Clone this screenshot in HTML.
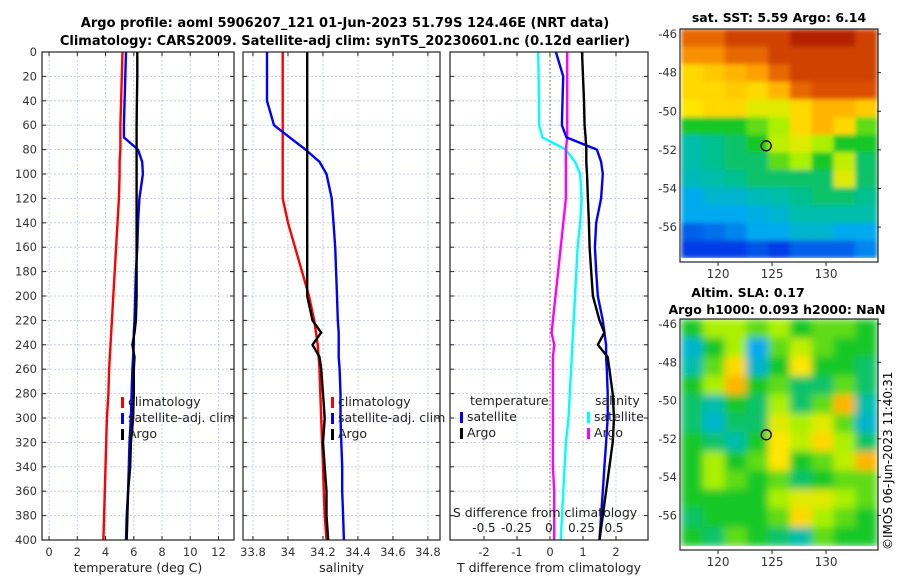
<!DOCTYPE html>
<html><head><meta charset="utf-8"><style>
body{margin:0;background:#fff;}
svg{display:block;font-family:"DejaVu Sans","Liberation Sans",sans-serif;}
</style></head><body>
<svg id="chart" width="900" height="580" viewBox="0 0 900 580" xmlns="http://www.w3.org/2000/svg">
<defs>
<filter id="blurS" x="0" y="0" width="1" height="1"><feGaussianBlur stdDeviation="2.5" edgeMode="duplicate"/></filter>
<filter id="blurL" x="0" y="0" width="1" height="1"><feGaussianBlur stdDeviation="4" edgeMode="duplicate"/></filter>
</defs>
<rect width="900" height="580" fill="#fff"/>
<text x="345" y="27" text-anchor="middle" font-size="13" font-weight="bold">Argo profile: aoml 5906207_121 01-Jun-2023 51.79S 124.46E (NRT data)</text>
<text x="345" y="45" text-anchor="middle" font-size="13" font-weight="bold">Climatology: CARS2009. Satellite-adj clim: synTS_20230601.nc (0.12d earlier)</text>
<text x="779" y="22" text-anchor="middle" font-size="12.5" font-weight="bold">sat. SST: 5.59 Argo: 6.14</text>
<text x="748" y="297" text-anchor="middle" font-size="12.5" font-weight="bold">Altim. SLA: 0.17</text>
<text x="777" y="314" text-anchor="middle" font-size="12.5" font-weight="bold">Argo h1000: 0.093 h2000: NaN</text>
<text transform="translate(892,550) rotate(-90)" font-size="12">©IMOS 06-Jun-2023 11:40:31</text>
<g id="g"></g>
</svg>
<script>
// ---- data ----
const depths=[0,20,40,60,70,80,90,100,120,140,160,180,200,220,230,240,250,260,280,300,320,340,360,380,400];
const tempClim=[5.2,5.15,5.1,5.05,5.05,5.05,5.0,5.0,4.95,4.85,4.75,4.65,4.55,4.45,4.4,4.35,4.3,4.25,4.2,4.1,4.05,4.0,3.95,3.9,3.85];
const tempSat=[5.45,5.4,5.35,5.3,5.3,6.3,6.6,6.65,6.4,6.3,6.25,6.15,6.1,6.05,6.0,6.0,5.95,5.9,5.85,5.8,5.7,5.65,5.6,5.5,5.45];
const tempArgo=[6.25,6.25,6.22,6.2,6.2,6.2,6.2,6.2,6.2,6.2,6.2,6.2,6.2,6.15,6.05,5.9,6.05,6.0,6.0,5.95,5.8,5.75,5.6,5.55,5.5];
const salClim=[33.97,33.97,33.97,33.97,33.97,33.97,33.97,33.97,33.97,34.0,34.04,34.08,34.12,34.15,34.16,34.17,34.175,34.18,34.185,34.19,34.195,34.2,34.205,34.21,34.22];
const salSat=[33.88,33.88,33.88,33.92,34.01,34.1,34.18,34.22,34.25,34.26,34.27,34.275,34.28,34.285,34.29,34.29,34.29,34.295,34.3,34.3,34.305,34.31,34.31,34.315,34.32];
const salArgo=[34.11,34.11,34.11,34.11,34.11,34.11,34.11,34.11,34.11,34.11,34.11,34.11,34.11,34.14,34.19,34.14,34.18,34.19,34.2,34.21,34.2,34.21,34.22,34.22,34.23];
const tDiffSat=[0.18,0.4,0.38,0.36,0.5,1.42,1.55,1.6,1.55,1.4,1.36,1.4,1.45,1.6,1.65,1.7,1.7,1.72,1.75,1.75,1.7,1.65,1.6,1.55,1.5];
const tDiffArgo=[0.97,1.0,1.03,1.05,1.08,1.1,1.1,1.12,1.15,1.18,1.2,1.25,1.3,1.5,1.65,1.45,1.75,1.8,1.9,1.94,1.9,1.8,1.7,1.6,1.5];
const sDiffSat=[-0.083,-0.08,-0.078,-0.076,-0.05,0.13,0.2,0.24,0.25,0.24,0.22,0.21,0.2,0.19,0.185,0.18,0.175,0.17,0.16,0.15,0.13,0.12,0.11,0.1,0.09];
const sDiffArgo=[0.14,0.14,0.14,0.14,0.14,0.13,0.13,0.13,0.13,0.11,0.09,0.07,0.05,0.03,0.02,0.04,0.03,0.03,0.03,0.03,0.03,0.03,0.04,0.04,0.04];
const depthTicks=[0,20,40,60,80,100,120,140,160,180,200,220,240,260,280,300,320,340,360,380,400];
const tempTicks=[0,2,4,6,8,10,12];
const salTicks=[33.8,34,34.2,34.4,34.6,34.8];
const salTickLabels=["33.8","34","34.2","34.4","34.6","34.8"];
const tdTicks=[-2,-1,0,1,2];
const sdTicks=[-0.5,-0.25,0,0.25,0.5];
const sdTickLabels=["-0.5","-0.25","0","0.25","0.5"];
const latTicks=[-46,-48,-50,-52,-54,-56];
const lonTicks=[120,125,130];
const sstGrid=[
[.85,.85,.9,.9,.9,.95,.95,.95,.9],
[.8,.8,.85,.85,.9,.9,.9,.9,.9],
[.7,.72,.75,.78,.85,.9,.9,.9,.9],
[.7,.7,.72,.7,.75,.85,.88,.88,.88],
[.68,.7,.7,.65,.65,.7,.75,.75,.72],
[.5,.5,.5,.55,.6,.7,.75,.7,.55],
[.4,.42,.45,.5,.62,.65,.6,.5,.5],
[.4,.42,.45,.45,.55,.6,.5,.62,.45],
[.38,.4,.42,.45,.45,.45,.45,.65,.45],
[.3,.35,.35,.38,.4,.42,.45,.45,.42],
[.3,.3,.3,.32,.35,.4,.4,.4,.4],
[.2,.22,.25,.3,.3,.35,.35,.3,.3],
[.15,.15,.15,.18,.15,.2,.2,.2,.25]];
const slaGrid=[
[.5,.6,.6,.55,.6,.5,.55,.55,.5],
[.35,.5,.6,.3,.55,.62,.55,.5,.5],
[.4,.55,.7,.35,.5,.68,.5,.5,.45],
[.5,.6,.75,.5,.55,.45,.45,.55,.45],
[.45,.4,.5,.45,.6,.45,.55,.75,.4],
[.45,.35,.45,.45,.65,.6,.65,.55,.35],
[.5,.45,.4,.5,.68,.62,.7,.6,.45],
[.5,.6,.5,.55,.68,.5,.55,.62,.75],
[.5,.6,.55,.5,.55,.45,.5,.55,.55],
[.5,.5,.5,.5,.6,.65,.65,.6,.55],
[.45,.5,.5,.5,.55,.7,.6,.55,.5],
[.5,.45,.55,.5,.45,.4,.55,.5,.5]];
const argoLon=124.46, argoLat=-51.79;

const NS='http://www.w3.org/2000/svg';
const G=document.getElementById('g');
function el(t,a,p){const e=document.createElementNS(NS,t);for(const k in a)e.setAttribute(k,a[k]);(p||G).appendChild(e);return e;}
const Y0=52,Y1=540;
const yD=d=>Y0+(d/400)*(Y1-Y0);

function panel(x0,x1,xmin,xmax,ticks,labels,name,xlabel){
  const sx=v=>x0+(v-xmin)/(xmax-xmin)*(x1-x0);
  const g=el('g',{});
  
  
  ticks.forEach((t,i)=>{
    const l=el('line',{x1:sx(t),x2:sx(t),y1:Y0,y2:Y1,stroke:'#b8c4e8','stroke-width':0.8,'stroke-dasharray':'2,2'},g);
    
    
    const tx=el('text',{x:sx(t),y:556,'text-anchor':'middle','font-size':11.5,fill:'#333'},g);
    
    
    tx.textContent=labels?labels[i]:String(t);
    el('line',{x1:sx(t),x2:sx(t),y1:Y1,y2:Y1-4,stroke:'#222'},g);
    el('line',{x1:sx(t),x2:sx(t),y1:Y0,y2:Y0+4,stroke:'#222'},g);
  });
  depthTicks.forEach(d=>{
    const l=el('line',{x1:x0,x2:x1,y1:yD(d),y2:yD(d),stroke:'#b8c4e8','stroke-width':0.8,'stroke-dasharray':'2,2'},g);
    
    
    el('line',{x1:x0,x2:x0+4,y1:yD(d),y2:yD(d),stroke:'#222'},g);
    el('line',{x1:x1,x2:x1-4,y1:yD(d),y2:yD(d),stroke:'#222'},g);
  });
  const xl=el('text',{x:(x0+x1)/2,y:572,'text-anchor':'middle','font-size':12.5,fill:'#222'},g);
  
  
  xl.textContent=xlabel;
  return {sx,g};
}
function frame(x0,x1,name){const r=el('rect',{x:x0,y:Y0,width:x1-x0,height:Y1-Y0,fill:'none',stroke:'#222','stroke-width':1.2});
}
function line(vals,sx,color,name,w){
  const pts=vals.map((v,i)=>sx(v).toFixed(1)+','+yD(depths[i]).toFixed(1)).join(' ');
  const p=el('polyline',{points:pts,fill:'none',stroke:color,'stroke-width':w||2.4,'stroke-linejoin':'round'});
  
  
}
function legend(x,y,items,name){
  items.forEach((it,i)=>{
    const yy=y+i*16;
    if(it[1]){const m=el('rect',{x:x,y:yy-9,width:3,height:11,fill:it[1]});
      }
    const t=el('text',{x:x+(it[1]?7:0),y:yy,'font-size':12.5,fill:'#222'});
    
    
    t.textContent=it[0];
  });
}

depthTicks.forEach(d=>{const t=el('text',{x:37,y:yD(d)+4,'text-anchor':'end','font-size':11.5,fill:'#333'});
t.textContent=d;});

// Panel 1
const p1=panel(42,234,-0.5,13.1,tempTicks,null,'temperature','temperature (deg C)');
line(tempClim,p1.sx,'#ff0000','temp-climatology-line');
line(tempSat,p1.sx,'#0000ff','temp-satellite-line');
line(tempArgo,p1.sx,'#000000','temp-argo-line');
legend(121,406,[['climatology','#ff0000'],['satellite-adj. clim','#0000ff'],['Argo','#000']],'temperature');
frame(42,234,'temperature');

// Panel 2
const p2=panel(243,440,33.743,34.869,salTicks,salTickLabels,'salinity','salinity');
line(salClim,p2.sx,'#ff0000','sal-climatology-line');
line(salSat,p2.sx,'#0000ff','sal-satellite-line');
line(salArgo,p2.sx,'#000000','sal-argo-line');
legend(331,406,[['climatology','#ff0000'],['satellite-adj. clim','#0000ff'],['Argo','#000']],'salinity');
frame(243,440,'salinity');

// Panel 3
const p3=panel(450,648,-3.03,2.97,tdTicks,null,'difference','T difference from climatology');
const sxS=v=>549+v*130;
el('line',{x1:550,x2:550,y1:Y0,y2:Y1,stroke:'#556b2f','stroke-width':1,'stroke-dasharray':'1.5,2.5'});
line(sDiffSat,sxS,'#00ffff','s-diff-satellite-line');
line(sDiffArgo,sxS,'#ff00ff','s-diff-argo-line');
line(tDiffSat,p3.sx,'#0000ff','t-diff-satellite-line');
line(tDiffArgo,p3.sx,'#000000','t-diff-argo-line');
legend(470,405,[['temperature',null]],'t-diff');
legend(460,421,[['satellite','#0000ff'],['Argo','#000']],'t-diff');
legend(595,405,[['salinity',null]],'s-diff');
legend(587,421,[['satellite','#00ffff'],['Argo','#ff00ff']],'s-diff');
const st=el('text',{x:545,y:517,'text-anchor':'middle','font-size':12.5,fill:'#222'});

st.textContent='S difference from climatology';
sdTicks.forEach((t,i)=>{const tx=el('text',{x:sxS(t),y:532,'text-anchor':'middle','font-size':12,fill:'#222'});
tx.textContent=sdTickLabels[i];});
frame(450,648,'difference');

// Maps
function jet(v){
  const stops=[[0,[0,0,140]],[0.15,[0,60,230]],[0.3,[0,170,240]],[0.4,[0,190,170]],[0.5,[20,200,40]],[0.6,[170,240,0]],[0.68,[255,230,0]],[0.78,[255,160,0]],[0.88,[220,80,0]],[1,[150,0,0]]];
  for(let i=1;i<stops.length;i++){if(v<=stops[i][0]){const a=stops[i-1],b=stops[i],f=(v-a[0])/(b[0]-a[0]);
    return 'rgb('+a[1].map((c,k)=>Math.round(c+(b[1][k]-c)*f)).join(',')+')';}}
  return 'rgb(150,0,0)';
}
function map(x0,y0,x1,y1,grid,name,lonMin,lonMax,latTop,latBot,filt){
  const g=el('g',{});
  
  
  const cells=el('g',{filter:'url(#'+filt+')'},g);
  
  
  const R=grid.length,C=grid[0].length,cw=(x1-x0)/C,ch=(y1-y0)/R;
  grid.forEach((row,r)=>row.forEach((v,c)=>{
    const cell=el('rect',{x:x0+c*cw,y:y0+r*ch,width:cw+0.6,height:ch+0.6,fill:jet(v)},cells);
    
    
  }));
  const lx=v=>x0+(v-lonMin)/(lonMax-lonMin)*(x1-x0);
  const ly=v=>y0+(latTop-v)/(latTop-latBot)*(y1-y0);
  el('rect',{x:x0,y:y1,width:x1-x0,height:4,fill:'#fff'},g);
  const fr=el('rect',{x:x0-1,y:y0,width:x1-x0+2,height:y1-y0+4,fill:'none',stroke:'#222','stroke-width':1.2},g);
  
  latTicks.forEach(t=>{const t1=el('text',{x:x0-4,y:ly(t)+4,'text-anchor':'end','font-size':11.5,fill:'#333'},g);
    t1.textContent=t;
    el('line',{x1:x1,x2:x1+4,y1:ly(t),y2:ly(t),stroke:'#222'},g);});
  lonTicks.forEach(t=>{const t1=el('text',{x:lx(t),y:y1+20,'text-anchor':'middle','font-size':12,fill:'#333'},g);
    t1.textContent=t;
    el('line',{x1:lx(t),x2:lx(t),y1:y1+4,y2:y1+8,stroke:'#222'},g);});
  const c=el('circle',{cx:lx(argoLon),cy:ly(argoLat),r:5,fill:'none',stroke:'#000','stroke-width':1.3},g);
  
}
map(681,29,877,258,sstGrid,'sst-map',116.57,134.72,-45.74,-57.6,'blurS');
map(681,319,877,546,slaGrid,'sla-map',116.57,134.72,-45.74,-57.6,'blurL');
</script>
</body></html>
